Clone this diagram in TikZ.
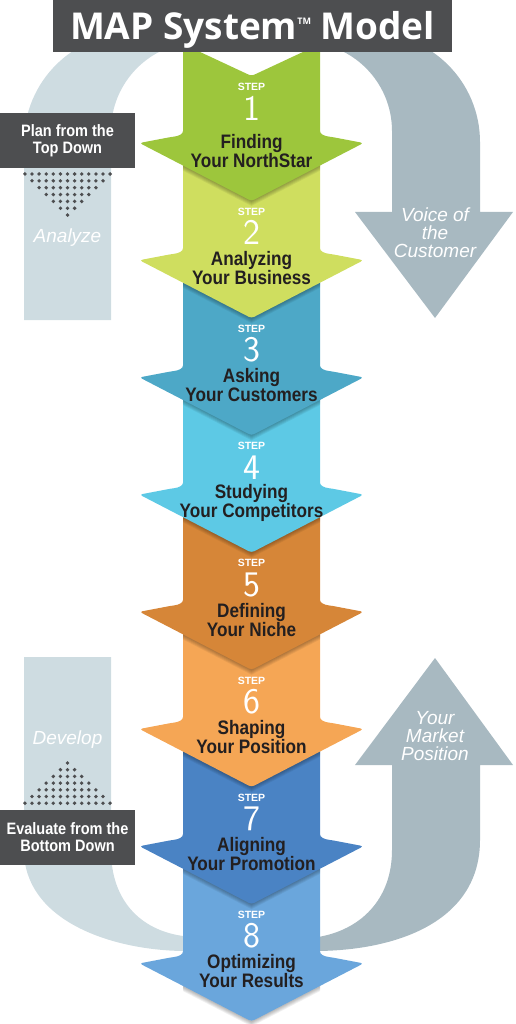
\documentclass[tikz,border=0pt]{standalone}
\usepackage{fontspec}
\setmainfont{Liberation Sans}
\newfontfamily\condfont{Liberation Sans}[FakeStretch=0.88]
\newcommand\numfont{\sffamily}
\newfontfamily\titlefont{Open Sans}
\usepackage{tikz}
\definecolor{map-dark}{RGB}{77,78,80}
\definecolor{map-text}{RGB}{35,31,32}
\definecolor{map-band}{RGB}{206,220,225}
\definecolor{map-gray}{RGB}{168,185,193}
\definecolor{step1}{RGB}{157,198,60}
\definecolor{step2}{RGB}{207,222,95}
\definecolor{step3}{RGB}{77,168,199}
\definecolor{step4}{RGB}{93,201,229}
\definecolor{step5}{RGB}{214,134,56}
\definecolor{step6}{RGB}{245,166,85}
\definecolor{step7}{RGB}{74,131,196}
\definecolor{step8}{RGB}{106,166,220}

\begin{document}
\begin{tikzpicture}[x=1pt, y=-1pt,
  titlebox/.style={fill=map-dark, text=white, minimum width=399pt,
    minimum height=52pt, inner sep=0pt, text height=27pt, text depth=0pt,
    font=\titlefont\bfseries\fontsize{37}{37}\selectfont},
  darkbox/.style={fill=map-dark, text=white, minimum width=135pt,
    minimum height=55pt, inner sep=0pt, align=center,
    font=\condfont\bfseries\fontsize{16.5}{17}\selectfont},
  flowlabel/.style={text=white, inner sep=0pt, align=center,
    font=\itshape\fontsize{19}{18}\selectfont},
  steplabel/.style={text=white, anchor=base, inner sep=0pt,
    font=\bfseries\fontsize{10.5}{10.5}\selectfont},
  numlabel/.style={text=white, anchor=base, inner sep=0pt,
    font=\numfont\fontsize{36}{36}\selectfont},
  stepname/.style={text=map-text, inner sep=0pt, align=center,
    font=\condfont\bfseries\fontsize{19.5}{19}\selectfont}]
  \useasboundingbox (0,0) rectangle (515,1024);
  \clip (0,0) rectangle (515,1024);

  % Bande gauche haut (Analyze)
  \fill[map-band] (24,320) -- (24,142)
    arc[start angle=180, end angle=270, radius=109] -- (200,42)
    arc[start angle=270, end angle=180, radius=89] -- (111,320) -- cycle;
  % Bande gauche bas (Develop)
  \fill[map-band] (24,657) -- (111,657) -- (111,850)
    .. controls (111,900) and (140,930) .. (183,936) -- (200,936)
    -- (200,951) -- (183,951)
    .. controls (110,950) and (24,920) .. (24,850) -- cycle;

  % Fleche droite haut (Voice of the Customer)
  \fill[map-gray] (480,212) -- (480,142)
    arc[start angle=0, end angle=-90, radius=109] -- (303,42)
    arc[start angle=-90, end angle=0, radius=89] -- (392,212)
    -- (355,212) -- (435,318) -- (513,212) -- cycle;
  % Fleche droite bas (Your Market Position)
  \fill[map-gray] (392,765) -- (392,850)
    .. controls (392,900) and (360,930) .. (318,937) -- (300,937)
    -- (300,951) -- (318,951)
    .. controls (400,950) and (480,920) .. (480,840)
    -- (480,765) -- (513,765) -- (435,658) -- (355,765) -- cycle;

  % Etapes (de 8 a 1, chaque tete recouvre la suivante)
  \foreach \i/\col/\ta/\tb/\up in {
    8/step8/Optimizing/Your Results/0,
    7/step7/Aligning/Your Promotion/0,
    6/step6/Shaping/Your Position/0,
    5/step5/Defining/Your Niche/0,
    4/step4/Studying/Your Competitors/0,
    3/step3/Asking/Your Customers/0,
    2/step2/Analyzing/Your Business/0,
    1/step1/Finding/Your NorthStar/7}{
    \pgfmathsetmacro\w{143+117.2*(\i-1)}
    % ombre de la tete
    \begin{scope}
      \clip (183,\w) rectangle (320,\w+90);
      \foreach \s in {1,...,5}
        \fill[black, opacity=0.06] (183,\w) -- (183,\w+22.7+\s)
          -- (251.5,\w+58+\s) -- (320,\w+22.7+\s) -- (320,\w) -- cycle;
    \end{scope}
    \fill[\col, rounded corners=3pt] (183,\w-99) -- (251.5,\w-67)
      -- (320,\w-99) -- (320,\w-15)
      .. controls (320,\w-9) and (324,\w-7) .. (332,\w-6) -- (363.5,\w)
      -- (251.5,\w+58) -- (139.5,\w) -- (171,\w-6)
      .. controls (179,\w-7) and (183,\w-9) .. (183,\w-15) -- cycle;
    \node[steplabel] (step\i) at (251.5,\w-45-\up) {STEP};
    \node[numlabel] (num\i) at (251.5,\w-15.5-\up) {\i};
    \node[stepname] (name\i) at (251.5,\w+8) {\ta\\\tb};
  }

  % Titre
  \node[titlebox] (title) at (252.5,26)
    {MAP System{\fontsize{9}{9}\selectfont\raisebox{15pt}{TM}} Model};

  % Planifier du haut vers le bas
  \node[darkbox] (plan) at (67.5,140.5) {Plan from the\\Top Down};
  \foreach \r in {0,...,6}{
    \pgfmathtruncatemacro\n{6-\r}
    \foreach \k in {-\n,...,\n}
      \fill[map-dark] (67.5+7.1*\k,174+6.85*\r) circle(1.9);
  }
  \node[flowlabel, anchor=base] (analyze) at (67.5,242.5) {Analyze};

  % Evaluer du bas vers le haut
  \node[flowlabel, anchor=base] (develop) at (67.5,744.5) {Develop};
  \foreach \r in {0,...,6}{
    \foreach \k in {-\r,...,\r}
      \fill[map-dark] (67.5+7.1*\k,763+6.7*\r) circle(1.9);
  }
  \node[darkbox] (evaluate) at (67.5,837.5) {Evaluate from the\\Bottom Down};

  % Libelles des fleches grises
  \node[flowlabel] (voice) at (435,233) {Voice of\\the\\Customer};
  \node[flowlabel] (market) at (435,736) {Your\\Market\\Position};
\end{tikzpicture}
\end{document}
